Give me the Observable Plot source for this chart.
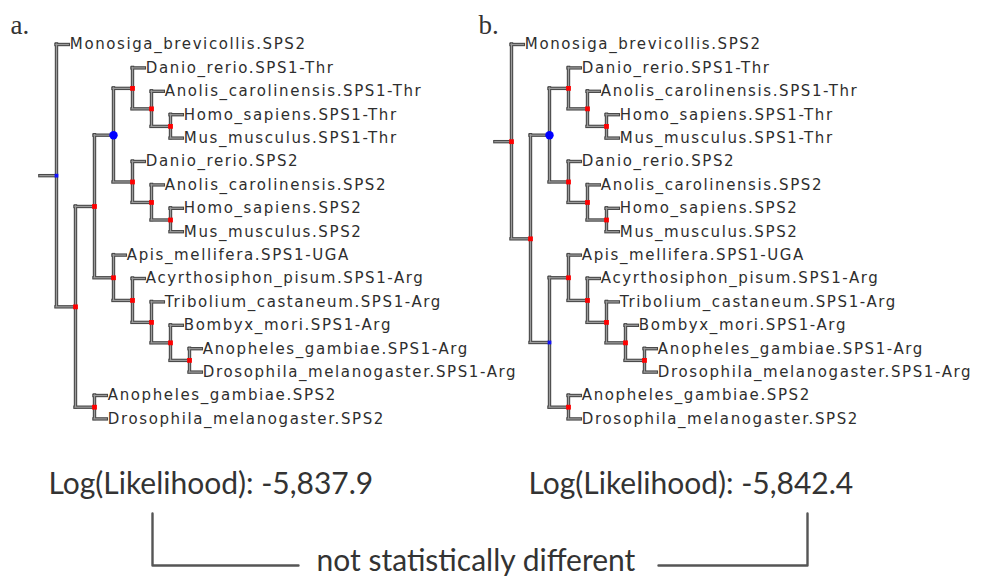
<!DOCTYPE html>
<html>
<head>
<meta charset="utf-8">
<script src="https://cdn.jsdelivr.net/npm/d3@7"></script>
<script src="https://cdn.jsdelivr.net/npm/@observablehq/plot@0.6"></script>
<style>
  html, body { margin: 0; padding: 0; background: #fff; }
  #chart svg { display: block; }
</style>
</head>
<body>
<div id="chart"></div>
<script>
// ---------------- data ----------------
const panels = ["a.", "b."];
const logLikelihood = [-5837.9, -5842.4];
const verdict = "not statistically different";

const outgroup = "Monosiga_brevicollis.SPS2";
const vertebrateSPS1 = "(Danio_rerio.SPS1-Thr,(Anolis_carolinensis.SPS1-Thr,(Homo_sapiens.SPS1-Thr,Mus_musculus.SPS1-Thr)r)r)r";
const vertebrateSPS2 = "(Danio_rerio.SPS2,(Anolis_carolinensis.SPS2,(Homo_sapiens.SPS2,Mus_musculus.SPS2)r)r)r";
const insectSPS1 = "(Apis_mellifera.SPS1-UGA,(Acyrthosiphon_pisum.SPS1-Arg,(Tribolium_castaneum.SPS1-Arg,(Bombyx_mori.SPS1-Arg,(Anopheles_gambiae.SPS1-Arg,Drosophila_melanogaster.SPS1-Arg)r)r)r)r)r";
const insectSPS2 = "(Anopheles_gambiae.SPS2,Drosophila_melanogaster.SPS2)r";
// node labels: r = red node marker, B = large blue marker, b = small blue marker
const newickA = `(${outgroup},(((${vertebrateSPS1},${vertebrateSPS2})B,${insectSPS1})r,${insectSPS2})r)b;`;
const newickB = `(${outgroup},((${vertebrateSPS1},${vertebrateSPS2})B,(${insectSPS1},${insectSPS2})b)r)r;`;
const trees = [newickA, newickB];

// ---------------- layout constants ----------------
const ROOT_X = 56, STEP = 19;      // px of root, px per depth level
const TOP = 44, ROW = 23.4;        // px of first leaf row, px per leaf row
const PANEL_SHIFT = 455 / STEP;    // depth units between the two panels
const LEAF = 0.65, STUB = 0.85;
const ux = px => (px - ROOT_X) / STEP;   // annotation helpers (pixel -> scale units)
const uy = py => (py - TOP) / ROW;

// ---------------- newick parsing & layout ----------------
function parseNewick(s) {
  const tokens = s.split(/\s*([(),;])\s*/).filter(t => t !== "");
  let i = 0;
  function node() {
    const n = {children: [], name: ""};
    if (tokens[i] === "(") {
      i++;
      n.children.push(node());
      while (tokens[i] === ",") { i++; n.children.push(node()); }
      i++; // ")"
      if (tokens[i] !== undefined && !["(", ")", ",", ";"].includes(tokens[i])) n.name = tokens[i++];
    } else {
      n.name = tokens[i++];
    }
    return n;
  }
  return node();
}

const leaves = [], nodes = [], hLinks = [], vLinks = [];
trees.forEach((nw, p) => {
  const root = parseNewick(nw);
  const shift = p * PANEL_SHIFT;
  let row = 0;
  (function lay(n, depth, parentX) {
    if (!n.children.length) {
      n.x = parentX + LEAF;
      n.y = row++;
      leaves.push({panel: panels[p], name: n.name, x: n.x, y: n.y});
    } else {
      n.x = depth;
      n.children.forEach(c => lay(c, depth + 1, n.x));
      const first = n.children[0], last = n.children[n.children.length - 1];
      n.y = (first.y + last.y) / 2;
      vLinks.push({panel: panels[p], x: n.x, y1: first.y, y2: last.y});
      nodes.push({panel: panels[p], x: n.x, y: n.y, support: n.name});
    }
    hLinks.push({panel: panels[p], x1: parentX, x2: n.x, y: n.y});
  })(root, shift, shift - STUB);
});

const likelihoodLabels = panels.map((p, i) => ({
  panel: p,
  text: "Log(Likelihood): " + d3.format(",.1f")(logLikelihood[i]).replace("−", "-"),
  x: ux([48, 528][i]),
  y: uy(493)
}));
const panelLabels = panels.map((p, i) => ({text: p, x: ux([10, 478][i]), y: uy(33)}));
const bracket = [
  {side: "a", x: ux(152), y: uy(513)}, {side: "a", x: ux(152), y: uy(565)}, {side: "a", x: ux(298), y: uy(565)},
  {side: "b", x: ux(658), y: uy(565)}, {side: "b", x: ux(807), y: uy(565)}, {side: "b", x: ux(807), y: uy(513)}
];

const outer = {stroke: "#4a4a4a", strokeWidth: 3.4, strokeLinecap: "square"};
const inner = {stroke: "#9c9c9c", strokeWidth: 1.2, strokeLinecap: "square"};

const chart = Plot.plot({
  width: 981,
  height: 576,
  marginTop: 0, marginRight: 0, marginBottom: 0, marginLeft: 0,
  x: {domain: [0, 1], range: [ROOT_X, ROOT_X + STEP], axis: null},
  y: {domain: [0, 1], range: [TOP, TOP + ROW], axis: null},
  marks: [
    Plot.ruleX(vLinks, {x: "x", y1: "y1", y2: "y2", ...outer}),
    Plot.ruleY(hLinks, {y: "y", x1: "x1", x2: "x2", ...outer}),
    Plot.ruleX(vLinks, {x: "x", y1: "y1", y2: "y2", ...inner}),
    Plot.ruleY(hLinks, {y: "y", x1: "x1", x2: "x2", ...inner}),
    Plot.dot(nodes.filter(d => d.support === "r"), {x: "x", y: "y", r: 2.7, symbol: "square", fill: "#ff0000"}),
    Plot.dot(nodes.filter(d => d.support === "B"), {x: "x", y: "y", r: 4.2, fill: "#0000ff"}),
    Plot.dot(nodes.filter(d => d.support === "b"), {x: "x", y: "y", r: 2.1, symbol: "square", fill: "#1010ff"}),
    Plot.text(leaves, {x: "x", y: "y", text: "name", textAnchor: "start", dx: 1,
      fontSize: 15, fontFamily: "DejaVu Sans", fill: "#2e2e2e", ariaLabel: "leaf labels"}),
    Plot.text(panelLabels, {x: "x", y: "y", text: "text", textAnchor: "start", lineAnchor: "bottom",
      fontSize: 27, fontFamily: "Liberation Serif", fill: "#333"}),
    Plot.text(likelihoodLabels, {x: "x", y: "y", text: "text", textAnchor: "start", lineAnchor: "bottom",
      fontSize: 30, fontFamily: "Lato", fill: "#333"}),
    Plot.line(bracket, {x: "x", y: "y", z: "side", stroke: "#555", strokeWidth: 2.4}),
    Plot.text([verdict], {x: ux(316), y: uy(570), text: d => d, textAnchor: "start", lineAnchor: "bottom",
      fontSize: 30, fontFamily: "Lato", fill: "#333"})
  ]
});

chart.querySelectorAll('g[aria-label="leaf labels"] text, g[font-size="15"] text')
  .forEach(t => t.style.letterSpacing = "1.6px");
document.getElementById("chart").appendChild(chart);
</script>
</body>
</html>
